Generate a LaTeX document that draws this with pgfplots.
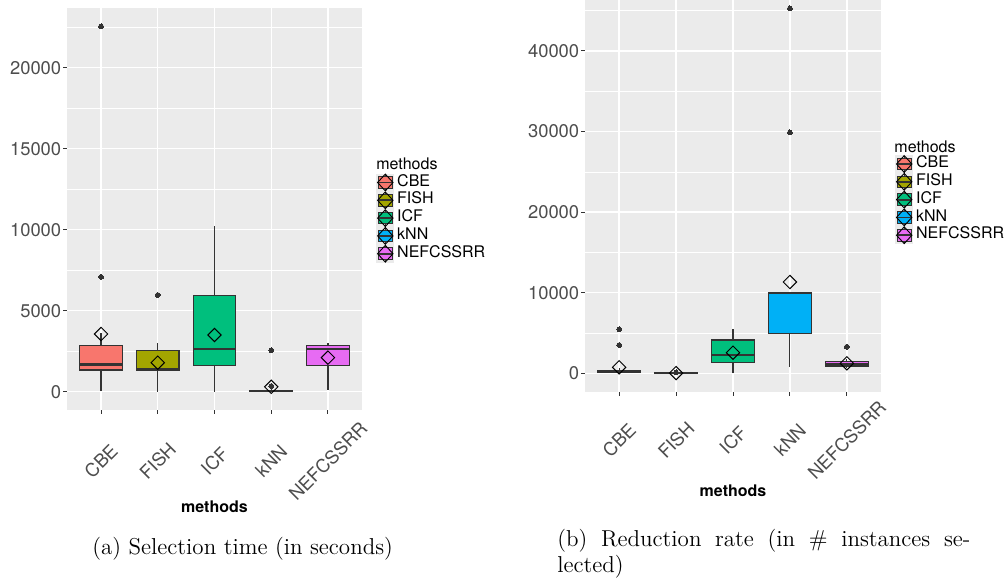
\documentclass[border=0pt]{standalone}
\usepackage{fontspec}
\usepackage{pgfplots}
\pgfplotsset{compat=1.18}
\usepgfplotslibrary{statistics}
\newfontfamily\heros{TeX Gyre Heros}
\definecolor{grey92}{HTML}{EBEBEB}
\definecolor{grey20}{HTML}{333333}
\definecolor{grey30}{HTML}{4D4D4D}
\definecolor{cbe}{HTML}{F8766D}
\definecolor{fish}{HTML}{A3A500}
\definecolor{icf}{HTML}{00BF7D}
\definecolor{knn}{HTML}{00B0F6}
\definecolor{nef}{HTML}{E76BF3}
\pgfkeys{/pgf/number format/.cd, 1000 sep={}, assume math mode=true}
\pgfplotsset{
  legend image code/.code={
    \fill[grey92] (0pt,-4.25pt) rectangle (8.5pt,4.25pt);
    \draw[grey20, line width=0.4pt] (4.25pt,-4.25pt) -- (4.25pt,4.25pt);
    \draw[#1, draw=grey20, line width=0.5pt] (0.85pt,-2.9pt) rectangle (7.65pt,2.9pt);
    \draw[grey20, line width=0.9pt] (0.85pt,0pt) -- (7.65pt,0pt);
    \draw[black, line width=0.45pt, fill=none] (4.25pt,-4.2pt) -- (8.1pt,0pt) -- (4.25pt,4.2pt) -- (0.4pt,0pt) -- cycle;
  },
  gg/.style={
    scale only axis, anchor=south west,
    clip mode=individual,
    boxplot/draw direction=y,
    axis background/.style={fill=grey92},
    axis line style={draw=none},
    grid=both,
    major grid style={white, line width=0.7pt},
    minor grid style={white, line width=0.35pt},
    tick align=outside, tick pos=left,
    major tick length=2pt, minor tick length=0pt,
    tick style={grey20, line width=0.5pt},
    xmin=-0.6, xmax=4.6, xtick={0,1,2,3,4},
    xticklabels={CBE,FISH,ICF,kNN,NEFCSSRR},
    xticklabel style={rotate=45, anchor=center, font=\heros\fontsize{9.2}{10}\selectfont, text=grey30},
    yticklabel style={font=\heros\fontsize{9.2}{10}\selectfont, text=grey30, inner sep=0.7pt},
    scaled y ticks=false,
    xlabel={methods},
    xlabel style={font=\heros\bfseries\fontsize{8}{9}\selectfont, at={(axis description cs:0.5,0)}, anchor=center},
    legend style={draw=none, fill=none, inner sep=0pt, column sep=1.5pt, row sep=0pt, anchor=north west,
      nodes={inner sep=0pt, text height=6.2pt, text depth=2.55pt, font=\heros\fontsize{8}{9}\selectfont}},
    legend cell align=left,
  },
  bx/.style={forget plot, draw=grey20, line width=0.55pt, mark=*, mark size=1.2pt,
    mark options={fill=grey20, draw=grey20, line width=0pt},
    boxplot/draw direction=y,
    boxplot/box extend=0.75, boxplot/whisker extend=0,
    boxplot/every box/.style={fill=#1, draw=grey20, line width=0.55pt},
    boxplot/every whisker/.style={draw=grey20, line width=0.55pt},
    boxplot/every median/.style={draw=grey20, line width=1.2pt}},
  meanmk/.style={forget plot, only marks, mark=square, mark size=2.36pt,
    mark options={rotate=45, draw=black, fill=none, line width=0.5pt}},
}
\begin{document}
\begin{tikzpicture}
\useasboundingbox (0pt,0pt) rectangle (503pt,291pt);
% ---------- (a) ----------
\begin{axis}[gg, at={(33.5pt,86pt)}, width=147.5pt, height=201pt,
  ymin=-1130, ymax=23680,
  ytick={0,5000,10000,15000,20000},
  minor ytick={2500,7500,12500,17500,22500},
  xticklabel shift=23.5pt,
  xlabel style={yshift=-48.5pt},
  legend style={at={(1.0475,0.589)}}]
\addplot[bx=cbe, boxplot prepared={draw position=0, lower whisker=50, lower quartile=1340, median=1670, upper quartile=2840, upper whisker=3600}] coordinates {(0,7080) (0,22550)};
\addplot[bx=fish, boxplot prepared={draw position=1, lower whisker=0, lower quartile=1340, median=1400, upper quartile=2555, upper whisker=3000}] coordinates {(1,5970)};
\addplot[bx=icf, boxplot prepared={draw position=2, lower whisker=0, lower quartile=1600, median=2640, upper quartile=5950, upper whisker=10230}] coordinates {};
\addplot[bx=knn, boxplot prepared={draw position=3, lower whisker=0, lower quartile=0, median=30, upper quartile=90, upper whisker=200}] coordinates {(3,350) (3,2550)};
\addplot[bx=nef, boxplot prepared={draw position=4, lower whisker=100, lower quartile=1590, median=2620, upper quartile=2860, upper whisker=2990}] coordinates {};
\addplot[meanmk] coordinates {(0,3560) (1,1790) (2,3500) (3,300) (4,2100)};
\addlegendimage{fill=cbe}\addlegendentry{CBE}
\addlegendimage{fill=fish}\addlegendentry{FISH}
\addlegendimage{fill=icf}\addlegendentry{ICF}
\addlegendimage{fill=knn}\addlegendentry{kNN}
\addlegendimage{fill=nef}\addlegendentry{NEFCSSRR}
\node[anchor=west, inner sep=0pt, font=\heros\fontsize{8}{9}\selectfont] at (rel axis cs:1.0475,0.613) {methods};
\end{axis}
% ---------- (b) ----------
\begin{axis}[gg, at={(292.5pt,95.15pt)}, width=148pt, height=195.85pt,
  ymin=-2283, ymax=46330,
  ytick={0,10000,20000,30000,40000},
  minor ytick={5000,15000,25000,35000,45000},
  xticklabel shift=22.2pt,
  xlabel style={yshift=-49.65pt},
  legend style={at={(1.047,0.605)}}]
\addplot[bx=cbe, boxplot prepared={draw position=0, lower whisker=0, lower quartile=50, median=150, upper quartile=300, upper whisker=600}] coordinates {(0,3510) (0,5460)};
\addplot[bx=fish, boxplot prepared={draw position=1, lower whisker=0, lower quartile=0, median=20, upper quartile=60, upper whisker=100}] coordinates {(1,120)};
\addplot[bx=icf, boxplot prepared={draw position=2, lower whisker=0, lower quartile=1320, median=2270, upper quartile=4130, upper whisker=5460}] coordinates {};
\addplot[bx=knn, boxplot prepared={draw position=3, lower whisker=830, lower quartile=4920, median=10000, upper quartile=10000, upper whisker=10000}] coordinates {(3,29900) (3,45300)};
\addplot[bx=nef, boxplot prepared={draw position=4, lower whisker=600, lower quartile=820, median=1110, upper quartile=1440, upper whisker=1800}] coordinates {(4,3300)};
\addplot[meanmk] coordinates {(0,745) (1,30) (2,2560) (3,11330) (4,1240)};
\addlegendimage{fill=cbe}\addlegendentry{CBE}
\addlegendimage{fill=fish}\addlegendentry{FISH}
\addlegendimage{fill=icf}\addlegendentry{ICF}
\addlegendimage{fill=knn}\addlegendentry{kNN}
\addlegendimage{fill=nef}\addlegendentry{NEFCSSRR}
\node[anchor=west, inner sep=0pt, font=\heros\fontsize{8}{9}\selectfont] at (rel axis cs:1.044,0.626) {methods};
\end{axis}
% ---------- captions ----------
\node[anchor=base west, inner sep=0pt, font=\fontsize{11.5}{13}\selectfont] at (46pt,13.5pt) {(a) Selection time (in seconds)};
\node[anchor=base west, inner sep=0pt, font=\fontsize{11.5}{13}\selectfont] at (278.5pt,17.5pt) {\makebox[206.5pt][s]{(b) Reduction rate (in \# instances se-}};
\node[anchor=base west, inner sep=0pt, font=\fontsize{11.5}{13}\selectfont] at (278.5pt,4.5pt) {lected)};
\end{tikzpicture}
\end{document}
